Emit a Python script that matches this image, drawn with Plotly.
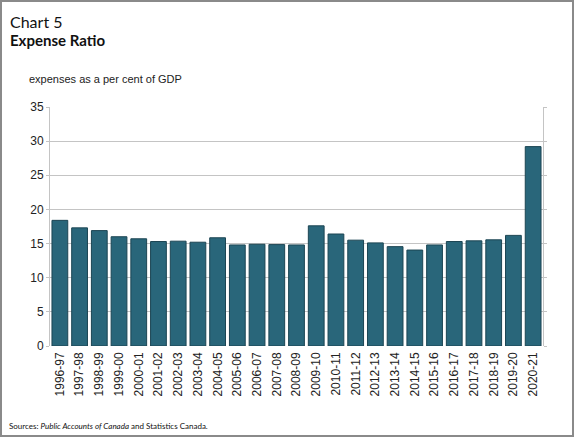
import plotly.graph_objects as go

categories = ["1996-97", "1997-98", "1998-99", "1999-00", "2000-01", "2001-02", "2002-03",
              "2003-04", "2004-05", "2005-06", "2006-07", "2007-08", "2008-09", "2009-10",
              "2010-11", "2011-12", "2012-13", "2013-14", "2014-15", "2015-16", "2016-17",
              "2017-18", "2018-19", "2019-20", "2020-21"]
expense_ratio = [18.4, 17.3, 16.9, 16.0, 15.7, 15.3, 15.35, 15.2, 15.85, 14.8, 14.9, 14.85,
                 14.8, 17.6, 16.4, 15.5, 15.1, 14.55, 14.05, 14.8, 15.3, 15.4, 15.55, 16.2, 29.2]
y_ticks = [0, 5, 10, 15, 20, 25, 30, 35]

W, H = 574, 437
L, R, T, B = 50, 31, 107, 91
pw, ph = W - L - R, H - T - B

fig = go.Figure(go.Bar(
    x=categories, y=expense_ratio,
    marker=dict(color="#29667a", line=dict(color="#1c4553", width=1)),
))

fig.update_layout(
    width=W, height=H,
    margin=dict(l=L, r=R, t=T, b=B),
    paper_bgcolor="white", plot_bgcolor="white",
    bargap=0.2,
    showlegend=False,
    xaxis=dict(type="category", tickangle=-90, showgrid=False, ticks="",
               tickfont=dict(family="Liberation Sans, Arial", size=12, color="#222"),
               showline=False, ticklabelstandoff=3),
    yaxis=dict(range=[0, 35], tickvals=y_ticks, showgrid=True, gridcolor="#c4c4c4", gridwidth=1,
               ticks="outside", ticklen=3, tickcolor="#c4c4c4",
               showline=True, linecolor="#c4c4c4", mirror="ticks", zeroline=False,
               tickfont=dict(family="Liberation Sans, Arial", size=12, color="#222")),
    annotations=[
        dict(text="Chart 5", xref="paper", yref="paper", x=-(L - 8) / pw, y=1 + (T - 10) / ph,
             xanchor="left", yanchor="top", showarrow=False,
             font=dict(family="Lato", size=16, color="#111")),
        dict(text="<b>Expense Ratio</b>", xref="paper", yref="paper", x=-(L - 8) / pw, y=1 + (T - 29) / ph,
             xanchor="left", yanchor="top", showarrow=False,
             font=dict(family="Lato", size=15, color="#111")),
        dict(text="expenses as a per cent of GDP", xref="paper", yref="paper", x=-(L - 27) / pw,
             y=1 + (T - 71) / ph, xanchor="left", yanchor="top", showarrow=False,
             font=dict(family="Liberation Sans, Arial", size=11, color="#222")),
        dict(text="Sources: <i>Public Accounts of Canada</i> and Statistics Canada.", xref="paper", yref="paper",
             x=-(L - 7) / pw, y=-73 / ph, xanchor="left", yanchor="top", showarrow=False,
             font=dict(family="Lato", size=8, color="#111")),
    ],
    shapes=[dict(type="rect", xref="paper", yref="paper",
                 x0=-(L - 1) / pw, x1=1 + (R - 1) / pw, y0=-(B - 1) / ph, y1=1 + (T - 1) / ph,
                 line=dict(color="#8a8a8a", width=2), fillcolor="rgba(0,0,0,0)", layer="below")],
)

fig.write_html("out.html", config={"displayModeBar": False},
               post_script="document.body.style.margin='0';document.body.style.overflow='hidden';")
